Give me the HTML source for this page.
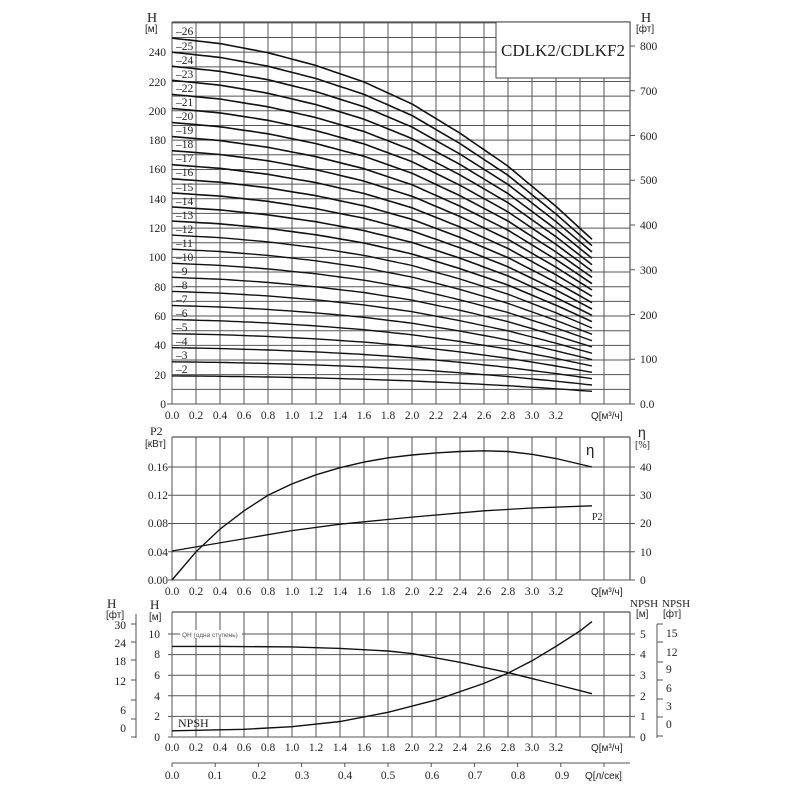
<!DOCTYPE html>
<html><head><meta charset="utf-8"><style>
html,body{margin:0;padding:0;background:#fff;}
svg{display:block;}
text{font-family:"Liberation Serif",serif;font-size:11.5px;fill:#222;}
.s{font-family:"Liberation Sans",sans-serif;}
</style></head><body>
<svg id="c" width="800" height="800" viewBox="0 0 800 800" xmlns="http://www.w3.org/2000/svg">
<g id="g"></g>
<text x="147" y="22" style="font-size:14px">H</text>
<text x="145" y="32" class="s" style="font-size:10px">[м]</text>
<g text-anchor="end">
<text x="166" y="408">0</text><text x="166" y="379">20</text><text x="166" y="349">40</text><text x="166" y="320">60</text><text x="166" y="291">80</text><text x="166" y="261">100</text><text x="166" y="232">120</text><text x="166" y="203">140</text><text x="166" y="173">160</text><text x="166" y="144">180</text><text x="166" y="115">200</text><text x="166" y="86">220</text><text x="166" y="56">240</text>
</g>
<text x="641" y="22" style="font-size:14px">H</text>
<text x="636" y="32" class="s" style="font-size:10px">[фт]</text>
<g>
<text x="640" y="408">0.0</text><text x="640" y="363">100</text><text x="640" y="319">200</text><text x="640" y="274">300</text><text x="640" y="229">400</text><text x="640" y="184">500</text><text x="640" y="140">600</text><text x="640" y="95">700</text><text x="640" y="50">800</text>
</g>
<g text-anchor="middle">
<text x="172" y="419">0.0</text><text x="196" y="419">0.2</text><text x="220" y="419">0.4</text><text x="244" y="419">0.6</text><text x="268" y="419">0.8</text><text x="292" y="419">1.0</text><text x="316" y="419">1.2</text><text x="340" y="419">1.4</text><text x="364" y="419">1.6</text><text x="388" y="419">1.8</text><text x="412" y="419">2.0</text><text x="436" y="419">2.2</text><text x="460" y="419">2.4</text><text x="484" y="419">2.6</text><text x="508" y="419">2.8</text><text x="532" y="419">3.0</text><text x="556" y="419">3.2</text>
</g>
<text x="591" y="419" class="s" style="font-size:10px">Q[м³/ч]</text>
<rect x="496" y="22" width="134" height="56" fill="#fff" stroke="#444" stroke-width="1"/>
<text x="563" y="56" text-anchor="middle" textLength="124" lengthAdjust="spacingAndGlyphs" style="font-size:17px">CDLK2/CDLKF2</text>
<g style="font-size:10px">
<text x="176" y="373">–2</text><text x="176" y="359">–3</text><text x="176" y="345">–4</text><text x="176" y="331">–5</text><text x="176" y="317">–6</text><text x="176" y="303">–7</text><text x="176" y="289">–8</text><text x="176" y="275">–9</text><text x="176" y="261">–10</text><text x="176" y="247">–11</text><text x="176" y="233">–12</text><text x="176" y="219">–13</text><text x="176" y="205">–14</text><text x="176" y="191">–15</text><text x="176" y="176">–16</text><text x="176" y="162">–17</text><text x="176" y="148">–18</text><text x="176" y="134">–19</text><text x="176" y="120">–20</text><text x="176" y="106">–21</text><text x="176" y="92">–22</text><text x="176" y="78">–23</text><text x="176" y="64">–24</text><text x="176" y="50">–25</text><text x="176" y="35">–26</text>
</g>
<text x="150" y="435" style="font-size:12px">P2</text>
<text x="145" y="447" class="s" style="font-size:10px">[кВт]</text>
<g text-anchor="end">
<text x="168" y="584">0.00</text><text x="168" y="556">0.04</text><text x="168" y="527">0.08</text><text x="168" y="499">0.12</text><text x="168" y="471">0.16</text>
</g>
<text x="638" y="437" class="s" style="font-size:14px">η</text>
<text x="635" y="448" style="font-size:10px">[%]</text>
<g><text x="640" y="584">0</text><text x="640" y="556">10</text><text x="640" y="527">20</text><text x="640" y="499">30</text><text x="640" y="471">40</text></g>
<text x="586" y="455" class="s" style="font-size:15px">η</text>
<text x="592" y="520" style="font-size:10px">P2</text>
<g text-anchor="middle">
<text x="172" y="595">0.0</text><text x="196" y="595">0.2</text><text x="220" y="595">0.4</text><text x="244" y="595">0.6</text><text x="268" y="595">0.8</text><text x="292" y="595">1.0</text><text x="316" y="595">1.2</text><text x="340" y="595">1.4</text><text x="364" y="595">1.6</text><text x="388" y="595">1.8</text><text x="412" y="595">2.0</text><text x="436" y="595">2.2</text><text x="460" y="595">2.4</text><text x="484" y="595">2.6</text><text x="508" y="595">2.8</text><text x="532" y="595">3.0</text><text x="556" y="595">3.2</text>
</g>
<text x="591" y="595" class="s" style="font-size:10px">Q[м³/ч]</text>
<text x="107" y="608" style="font-size:13px">H</text>
<text x="106" y="618" class="s" style="font-size:10px">[фт]</text>
<text x="150" y="609" style="font-size:13px">H</text>
<text x="149" y="620" class="s" style="font-size:10px">[м]</text>
<g text-anchor="end">
<text x="126" y="629">30</text><text x="126" y="647">24</text><text x="126" y="665">18</text><text x="126" y="685">12</text><text x="126" y="714">6</text><text x="126" y="732">0</text>
</g>
<g text-anchor="end">
<text x="160" y="741">0</text><text x="160" y="720">2</text><text x="160" y="700">4</text><text x="160" y="679">6</text><text x="160" y="658">8</text><text x="160" y="638">10</text>
</g>
<text x="178" y="727" style="font-size:12px">NPSH</text>
<rect x="180" y="630" width="62" height="8" fill="#fff"/>
<text x="182" y="637" class="s" style="font-size:6.5px;fill:#555">QH (одна ступень)</text>
<text x="630" y="607" style="font-size:11px">NPSH</text>
<text x="662" y="607" style="font-size:11px">NPSH</text>
<text x="636" y="617" class="s" style="font-size:10px">[м]</text>
<text x="663" y="617" class="s" style="font-size:10px">[фт]</text>
<g><text x="640" y="741">0</text><text x="640" y="720">1</text><text x="640" y="700">2</text><text x="640" y="679">3</text><text x="640" y="658">4</text><text x="640" y="638">5</text></g>
<g><text x="666" y="728">0</text><text x="666" y="710">3</text><text x="666" y="692">6</text><text x="666" y="673">9</text><text x="666" y="656">12</text><text x="666" y="637">15</text></g>
<g text-anchor="middle">
<text x="172" y="751">0.0</text><text x="196" y="751">0.2</text><text x="220" y="751">0.4</text><text x="244" y="751">0.6</text><text x="268" y="751">0.8</text><text x="292" y="751">1.0</text><text x="316" y="751">1.2</text><text x="340" y="751">1.4</text><text x="364" y="751">1.6</text><text x="388" y="751">1.8</text><text x="412" y="751">2.0</text><text x="436" y="751">2.2</text><text x="460" y="751">2.4</text><text x="484" y="751">2.6</text><text x="508" y="751">2.8</text><text x="532" y="751">3.0</text><text x="556" y="751">3.2</text>
</g>
<text x="591" y="751" class="s" style="font-size:10px">Q[м³/ч]</text>
<g text-anchor="middle">
<text x="172" y="779">0.0</text><text x="215" y="779">0.1</text><text x="259" y="779">0.2</text><text x="302" y="779">0.3</text><text x="345" y="779">0.4</text><text x="388" y="779">0.5</text><text x="432" y="779">0.6</text><text x="475" y="779">0.7</text><text x="518" y="779">0.8</text><text x="562" y="779">0.9</text>
</g>
<text x="585" y="779" class="s" style="font-size:10px">Q[л/сек]</text>
</svg>
<script>
var g=document.getElementById('g'),NS='http://www.w3.org/2000/svg';
function L(x1,y1,x2,y2,w,c){var e=document.createElementNS(NS,'line');e.setAttribute('x1',x1);e.setAttribute('y1',y1);e.setAttribute('x2',x2);e.setAttribute('y2',y2);e.setAttribute('stroke',c||'#555');e.setAttribute('stroke-width',w||1);g.appendChild(e);}
function P(pts,w){var e=document.createElementNS(NS,'polyline');e.setAttribute('points',pts.map(function(p){return p[0].toFixed(1)+','+p[1].toFixed(1)}).join(' '));e.setAttribute('fill','none');e.setAttribute('stroke','#111');e.setAttribute('stroke-width',w||1.5);g.appendChild(e);}
var X0=172,XR=630,XS=120;
function gx(q){return X0+q*XS;}
for(var q=0;q<=3.61;q+=0.2)L(gx(q),22,gx(q),404);
L(XR,22,XR,404,1.2);
for(var h=0;h<=260;h+=10){var y=404-h*1.466;L(X0,y,XR,y);}
L(X0,22,XR,22,1.2);
for(var v=0;v<=800;v+=100){var y=404-v*0.4475;L(XR,y,XR+5,y);}
L(167,404,X0,404);
function interp(tb,q){for(var i=1;i<tb.length;i++){if(q<=tb[i][0]){var a=tb[i-1],b=tb[i],t=(q-a[0])/(b[0]-a[0]);return a[1]+t*(b[1]-a[1]);}}return tb[tb.length-1][1];}
var qh=[[0,8.8],[0.4,8.8],[1.0,8.75],[1.4,8.6],[1.8,8.35],[2.0,8.1],[2.4,7.25],[2.8,6.25],[3.2,5.1],[3.5,4.2]];
var shp=[[0,1],[0.4,0.985],[0.8,0.96],[1.2,0.925],[1.6,0.88],[2.0,0.82],[2.4,0.74],[2.8,0.65],[3.2,0.54],[3.5,0.45]];
for(var n=2;n<=26;n++){var pts=[];for(var q=0;q<=3.5001;q+=0.05){var H=9.6*n*interp(shp,q);pts.push([gx(q),404-H*1.466]);}P(pts,n>12?1.6:1.4);}
for(var q=0;q<=3.61;q+=0.2)L(gx(q),437,gx(q),580);
L(XR,437,XR,580,1.2);L(X0,437,XR,437,1.2);
for(var k=0;k<=4;k++){var y=580-k*28.25;L(X0-4,y,XR+5,y);}
var eta=[[0,0],[0.2,0.04],[0.4,0.072],[0.6,0.098],[0.8,0.12],[1.0,0.136],[1.2,0.149],[1.4,0.159],[1.6,0.167],[1.8,0.173],[2.0,0.177],[2.2,0.18],[2.4,0.182],[2.6,0.183],[2.8,0.182],[3.0,0.178],[3.2,0.172],[3.5,0.16]];
P(eta.map(function(p){return[gx(p[0]),580-p[1]*706.25]}),1.4);
var p2=[[0,0.041],[1,0.07],[1.4,0.079],[2,0.089],[2.6,0.098],[3.0,0.102],[3.5,0.105]];
P(p2.map(function(p){return[gx(p[0]),580-p[1]*706.25]}),1.3);
for(var q=0;q<=3.61;q+=0.2)L(gx(q),612,gx(q),737);
L(XR,612,XR,737,1.2);L(X0,612,XR,612,1.2);
for(var k=0;k<=5;k++){var y=737-k*20.6;L(X0-4,y,XR+5,y);}
P(qh.map(function(p){return[gx(p[0]),737-p[1]*10.3]}),1.4);
var np=[[0,0.6],[0.6,0.75],[1.0,1.0],[1.4,1.5],[1.8,2.4],[2.2,3.6],[2.6,5.2],[2.8,6.2],[3.0,7.4],[3.2,8.8],[3.4,10.3],[3.5,11.2]];
P(np.map(function(p){return[gx(p[0]),737-p[1]*10.3]}),1.4);
L(136,614,136,738);[624,642,660,680,700,719,737].forEach(function(y){L(131,y,136,y);});
L(657,624,657,738);[642,662,680,699,717,736,624].forEach(function(y){L(657,y,663,y);});
L(172,763,630,763);for(var i=0;i<=10;i++){var x=172+i*43.2;if(x<=631)L(x,763,x,767);}
</script>
</body></html>
